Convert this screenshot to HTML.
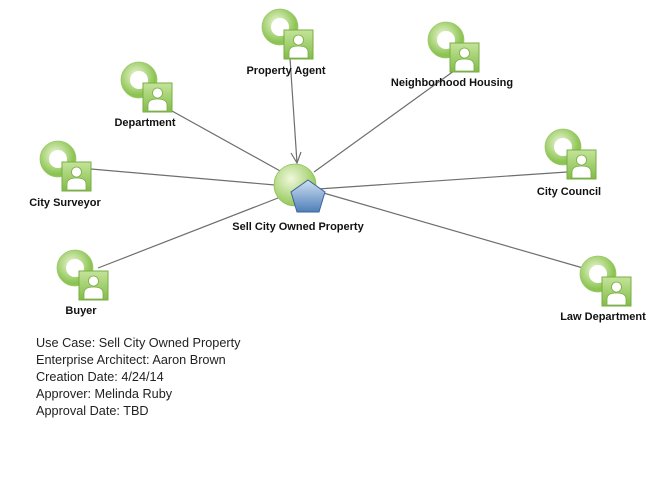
<!DOCTYPE html>
<html><head><meta charset="utf-8"><style>
html,body{margin:0;padding:0;background:#fff;width:668px;height:482px;overflow:hidden}
svg{display:block}
.l{font-family:"Liberation Sans",sans-serif;font-size:11px;font-weight:bold;fill:#111;text-anchor:middle}
.t{font-family:"Liberation Sans",sans-serif;font-size:12.7px;fill:#222}
</style></head><body>
<svg width="668" height="482" viewBox="0 0 668 482">
<defs>
<radialGradient id="rg" cx="0.4" cy="0.35" r="0.7">
<stop offset="0" stop-color="#eef8d8"/><stop offset="1" stop-color="#8cc452"/></radialGradient>
<linearGradient id="sg" x1="0" y1="0" x2="0" y2="1">
<stop offset="0" stop-color="#c4e49a"/><stop offset="1" stop-color="#82bc48"/></linearGradient>
<radialGradient id="ug" cx="0.4" cy="0.35" r="0.7">
<stop offset="0" stop-color="#f0f8dc"/><stop offset="1" stop-color="#8cc44c"/></radialGradient>
<linearGradient id="pg" x1="0" y1="0" x2="0" y2="1">
<stop offset="0" stop-color="#cfe0f2"/><stop offset="1" stop-color="#4f7fb8"/></linearGradient>
<g id="a">
<circle cx="0" cy="0" r="13.5" fill="none" stroke="url(#rg)" stroke-width="9"/>
<circle cx="0" cy="0" r="18" fill="none" stroke="#9cc86a" stroke-width="0.8"/>
<rect x="4" y="3" width="29" height="29" fill="url(#sg)" stroke="#7aae45" stroke-width="1"/>
<path d="M9 31 v-6 q0-6 9.5-6 q9.5 0 9.5 6 v6z" fill="#fff" stroke="#7aae45" stroke-width="0.8"/>
<circle cx="18.5" cy="13" r="5" fill="#fff" stroke="#7aae45" stroke-width="0.8"/>
</g>
</defs>
<g stroke="#6e6e6e" stroke-width="1.2" fill="none">
<line x1="290" y1="58" x2="297" y2="163"/>
<path d="M291 153 L297 163 L301 152"/>
<line x1="163" y1="106" x2="282" y2="172"/>
<line x1="458" y1="68" x2="314" y2="172"/>
<line x1="91" y1="169" x2="275" y2="185"/>
<line x1="567" y1="172" x2="318" y2="189"/>
<line x1="98" y1="268" x2="278" y2="198"/>
<line x1="583" y1="268" x2="320" y2="192"/>
</g>
<use href="#a" x="280" y="27"/>
<use href="#a" x="446" y="40"/>
<use href="#a" x="139" y="80"/>
<use href="#a" x="58" y="159"/>
<use href="#a" x="563" y="147"/>
<use href="#a" x="75" y="268"/>
<use href="#a" x="598" y="274"/>
<circle cx="295" cy="185" r="21" fill="url(#ug)" stroke="#8cbf55" stroke-width="0.8"/>
<polygon points="308,180 325,192 319,212 297,212 291,192" fill="url(#pg)" stroke="#3c649a" stroke-width="1"/>
<text class="l" x="286" y="74">Property Agent</text>
<text class="l" x="452" y="86">Neighborhood Housing</text>
<text class="l" x="145" y="126">Department</text>
<text class="l" x="65" y="206">City Surveyor</text>
<text class="l" x="569" y="195">City Council</text>
<text class="l" x="81" y="314">Buyer</text>
<text class="l" x="603" y="320">Law Department</text>
<text class="l" x="298" y="230">Sell City Owned Property</text>
<text class="t" x="36" y="347">Use Case: Sell City Owned Property</text>
<text class="t" x="36" y="364">Enterprise Architect:  Aaron Brown</text>
<text class="t" x="36" y="381">Creation Date:  4/24/14</text>
<text class="t" x="36" y="398">Approver: Melinda Ruby</text>
<text class="t" x="36" y="415">Approval Date: TBD</text>
</svg>
</body></html>
